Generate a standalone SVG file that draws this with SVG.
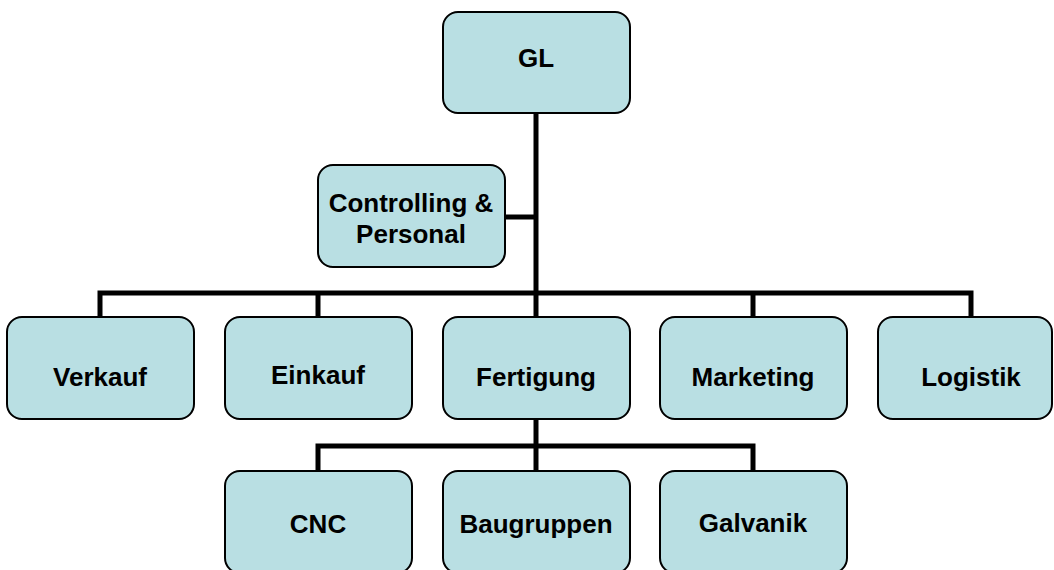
<svg xmlns="http://www.w3.org/2000/svg" width="1054" height="570" viewBox="0 0 1054 570">
<style>
.box{fill:#b9dfe3;stroke:#000;stroke-width:2}
.lbl{font-family:"Liberation Sans",Arial,sans-serif;font-weight:bold;font-size:26px;fill:#000;text-anchor:middle}
.con{fill:none;stroke:#000;stroke-width:5;stroke-linejoin:miter}
</style>
<rect width="1054" height="570" fill="#fff"/>
<g id="connectors">
<path class="con" d="M536 113 V293"/>
<path class="con" d="M505 217 H536"/>
<path class="con" d="M100 317 V293 H971 V317"/>
<path class="con" d="M318 317 V293"/>
<path class="con" d="M536 317 V293"/>
<path class="con" d="M753 317 V293"/>
<path class="con" d="M536 419 V471"/>
<path class="con" d="M318 471 V446 H753 V471"/>
</g>
<g id="gl"><rect class="box" x="443" y="12" width="187" height="101" rx="15"/><text class="lbl" x="536" y="67">GL</text></g>
<g id="controlling"><rect class="box" x="318" y="165" width="187" height="102" rx="15"/><text class="lbl" x="411" y="212">Controlling &amp;</text><text class="lbl" x="411" y="243">Personal</text></g>
<g id="verkauf"><rect class="box" x="7" y="317" width="187" height="102" rx="15"/><text class="lbl" x="100" y="386">Verkauf</text></g>
<g id="einkauf"><rect class="box" x="225" y="317" width="187" height="102" rx="15"/><text class="lbl" x="318" y="384">Einkauf</text></g>
<g id="fertigung"><rect class="box" x="443" y="317" width="187" height="102" rx="15"/><text class="lbl" x="536" y="386">Fertigung</text></g>
<g id="marketing"><rect class="box" x="660" y="317" width="187" height="102" rx="15"/><text class="lbl" x="753" y="386">Marketing</text></g>
<g id="logistik"><rect class="box" x="878" y="317" width="174" height="102" rx="15"/><text class="lbl" x="971" y="386">Logistik</text></g>
<g id="cnc"><rect class="box" x="225" y="471" width="187" height="102" rx="15"/><text class="lbl" x="318" y="533">CNC</text></g>
<g id="baugruppen"><rect class="box" x="443" y="471" width="187" height="102" rx="15"/><text class="lbl" x="536" y="533">Baugruppen</text></g>
<g id="galvanik"><rect class="box" x="660" y="471" width="187" height="102" rx="15"/><text class="lbl" x="753" y="532">Galvanik</text></g>
</svg>
